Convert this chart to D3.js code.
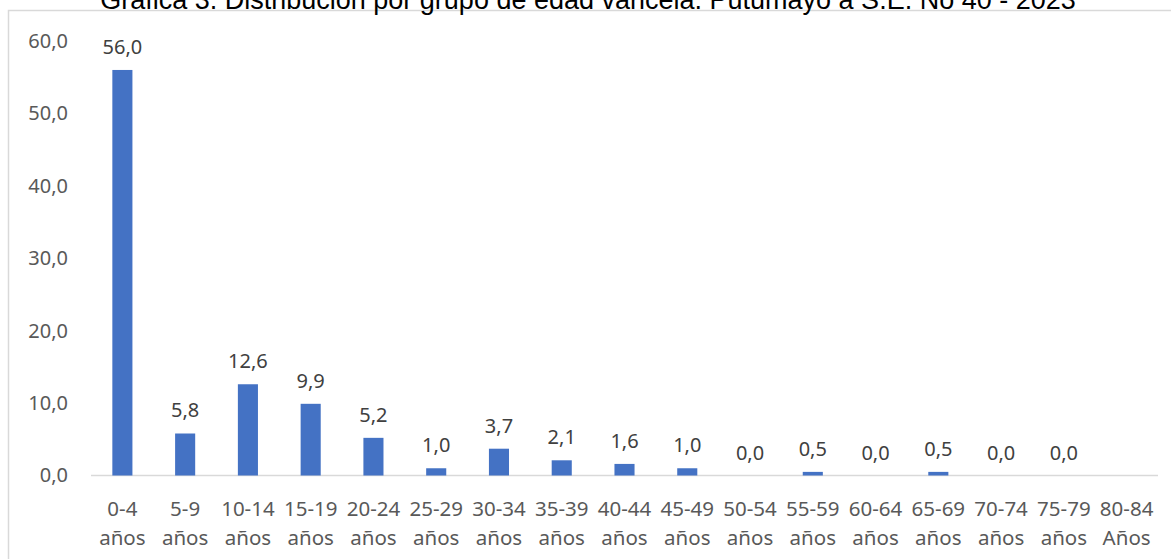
<!DOCTYPE html>
<html lang="es">
<head>
<meta charset="utf-8">
<script src="https://cdn.jsdelivr.net/npm/d3@7"></script>
<style>
  html, body { margin: 0; padding: 0; background: #fff; }
  svg { display: block; }
</style>
</head>
<body>
<svg id="chart" width="1171" height="559"></svg>
<script>
// Grupos de edad (dos líneas por etiqueta) y porcentaje de casos
const grupos = ["0-4", "5-9", "10-14", "15-19", "20-24", "25-29", "30-34", "35-39", "40-44",
                "45-49", "50-54", "55-59", "60-64", "65-69", "70-74", "75-79", "80-84"];
const unidades = ["años", "años", "años", "años", "años", "años", "años", "años", "años",
                  "años", "años", "años", "años", "años", "años", "años", "Años"];
const porcentajes = [56.0, 5.8, 12.6, 9.9, 5.2, 1.0, 3.7, 2.1, 1.6, 1.0, 0.0, 0.5, 0.0, 0.5, 0.0, 0.0, null];
const ticksY = [0, 10, 20, 30, 40, 50, 60];
const titulo = "Gráfica 3. Distribución por grupo de edad varicela. Putumayo a S.E. No 40 - 2023";

const svg = d3.select("#chart");
const W = 1171, H = 559;
const plot = { left: 91, right: 1158, top: 41, bottom: 475.5 };
const fmt = v => d3.format(".1f")(v).replace(".", ",");
const FONT = "'Noto Sans', 'Open Sans', sans-serif";

// Marco del gráfico
svg.append("path")
  .attr("d", `M8.5,${H} V10.5 H${W}`)
  .attr("fill", "none").attr("stroke", "#d9d9d9").attr("stroke-width", 1.5);

// Título
svg.append("text")
  .attr("x", 588).attr("y", 9)
  .attr("text-anchor", "middle")
  .attr("font-family", "'Liberation Sans', Arial, sans-serif")
  .attr("font-size", 27)
  .attr("fill", "#000")
  .text(titulo);

const x = d3.scaleBand()
  .domain(grupos)
  .range([plot.left, plot.right])
  .paddingInner(0.68).paddingOuter(0.34);

const y = d3.scaleLinear()
  .domain([0, 60])
  .range([plot.bottom, plot.top]);

// Eje Y (solo etiquetas)
const yAxis = d3.axisLeft(y).tickValues(ticksY).tickFormat(fmt).tickSize(0).tickPadding(0);
const gy = svg.append("g").attr("transform", "translate(68,0)").call(yAxis);
gy.select(".domain").remove();
gy.selectAll("text")
  .attr("font-family", FONT).attr("font-size", 20).attr("fill", "#595959")
  .attr("dy", "0.32em");

// Eje X con etiquetas en dos líneas
const xAxis = d3.axisBottom(x).tickSize(0).tickFormat("");
const gx = svg.append("g").attr("transform", `translate(0,${plot.bottom})`).call(xAxis);
gx.select(".domain")
  .attr("d", `M${plot.left},0H${plot.right}`)
  .attr("stroke", "#d9d9d9").attr("stroke-width", 1.5);
gx.selectAll(".tick").each(function(d, i) {
  const t = d3.select(this).append("text")
    .attr("font-family", FONT).attr("font-size", 20.5).attr("fill", "#595959")
    .attr("text-anchor", "middle");
  t.append("tspan").attr("x", 0).attr("y", 40).text(d);
  t.append("tspan").attr("x", 0).attr("y", 69).text(unidades[i]);
});

const datos = grupos.map((g, i) => ({ g, v: porcentajes[i] }));

// Barras
svg.append("g").selectAll("rect")
  .data(datos.filter(d => d.v !== null && d.v > 0))
  .join("rect")
  .attr("x", d => x(d.g))
  .attr("width", x.bandwidth())
  .attr("y", d => y(d.v))
  .attr("height", d => y(0) - y(d.v))
  .attr("fill", "#4472c4");

// Etiquetas de valor
svg.append("g").selectAll("text")
  .data(datos.filter(d => d.v !== null))
  .join("text")
  .attr("x", d => x(d.g) + x.bandwidth() / 2)
  .attr("y", d => y(d.v) - 16)
  .attr("text-anchor", "middle")
  .attr("font-family", FONT).attr("font-size", 20).attr("fill", "#404040")
  .text(d => fmt(d.v));
</script>
</body>
</html>
